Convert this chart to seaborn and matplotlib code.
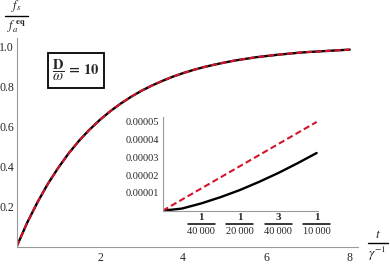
import numpy as np
import matplotlib
matplotlib.use("Agg")
import matplotlib.pyplot as plt
import matplotlib.transforms as mtransforms
import seaborn as sns

# main curve (exact and approximate coincide)
t_main = [0, 0.25, 0.5, 0.75, 1, 1.25, 1.5, 1.75, 2, 2.25, 2.5, 2.75, 3, 3.25, 3.5, 3.75, 4,
          4.25, 4.5, 4.75, 5, 5.25, 5.5, 5.75, 6, 6.25, 6.5, 6.75, 7, 7.25, 7.5, 7.75, 8]
frac_main = [0, 0.118, 0.221, 0.313, 0.393, 0.465, 0.528, 0.583, 0.632, 0.675, 0.713, 0.747,
             0.777, 0.803, 0.826, 0.847, 0.865, 0.881, 0.895, 0.907, 0.918, 0.928, 0.936,
             0.944, 0.950, 0.956, 0.961, 0.966, 0.970, 0.973, 0.976, 0.979, 0.982]

# inset (short times)
t_inset = [0, 1.25e-5, 2.5e-5, 3.75e-5, 5e-5, 6.25e-5, 7.5e-5, 8.75e-5, 1e-4]
frac_inset_exact = [0, 0.12e-5, 0.41e-5, 0.76e-5, 1.16e-5, 1.62e-5, 2.12e-5, 2.67e-5, 3.25e-5]
frac_inset_approx = [0, 0.625e-5, 1.25e-5, 1.875e-5, 2.5e-5, 3.125e-5, 3.75e-5, 4.375e-5, 5e-5]

main_xticks = [2, 4, 6, 8]
main_yticks = [0.2, 0.4, 0.6, 0.8, 1.0]
inset_xticks = [2.5e-5, 5e-5, 7.5e-5, 1e-4]
inset_xnum = ['1', '1', '3', '1']
inset_xden = ['40\u2009000', '20\u2009000', '40\u2009000', '10\u2009000']
inset_yticks = [1e-5, 2e-5, 3e-5, 4e-5, 5e-5]
inset_ylabels = ['0.00001', '0.00002', '0.00003', '0.00004', '0.00005']

sns.set_style("white")
plt.rcParams['font.family'] = ['Liberation Serif', 'DejaVu Serif']
plt.rcParams['mathtext.fontset'] = 'stix'

RED = '#d4142a'
AXC = '#9a9a9a'


def style_axes(ax):
    for s in ['top', 'right']:
        ax.spines[s].set_visible(False)
    for s in ['left', 'bottom']:
        ax.spines[s].set_color(AXC)
        ax.spines[s].set_linewidth(0.8)
    ax.tick_params(which='both', direction='in', color=AXC, width=0.6)
    ax.tick_params(which='major', length=3)
    ax.tick_params(which='minor', length=1.5)
    ax.patch.set_alpha(0)


def fig_fraction(fig, xc, ybar, half_w, num, den, size, gap_num=1.5, gap_den=2.5):
    # pixel coordinates from top-left, drawn as numerator / bar / denominator
    H = 265.0
    fig.text(xc / 390, 1 - (ybar - gap_num) / H, num, ha='center', va='bottom', fontsize=size)
    fig.text(xc / 390, 1 - (ybar + gap_den) / H, den, ha='center', va='top', fontsize=size)
    fig.add_artist(plt.Line2D([(xc - half_w) / 390, (xc + half_w) / 390],
                              [1 - ybar / H, 1 - ybar / H], color='black', lw=1.0,
                              transform=fig.transFigure))


fig = plt.figure(figsize=(3.9, 2.65), dpi=100)

# main axes
ax = fig.add_axes([16.7 / 390, 1 - 246.5 / 265, (358 - 16.7) / 390, (246.5 - 38) / 265])
sns.lineplot(x=t_main, y=frac_main, ax=ax, color='black', lw=1.7)
sns.lineplot(x=t_main, y=frac_main, ax=ax, color=RED, lw=1.5, linestyle=(0, (3, 1.6)))
ax.set_xlim(0, 8.2)
ax.set_ylim(0, 1.04)
style_axes(ax)
ax.set_xticks(main_xticks)
ax.set_xticks(np.arange(0.5, 8.1, 0.5), minor=True)
ax.set_yticks(main_yticks)
ax.set_yticks(np.arange(0.05, 1.04, 0.05), minor=True)
ax.set_yticklabels([f'{v:.1f}' for v in main_yticks])
ax.tick_params(axis='x', labelsize=8.5, pad=4)
ax.tick_params(axis='y', labelsize=8.5, pad=2)
ax.set_xlabel('')
ax.set_ylabel('')

# parameter box
ax.text(76 / 390, 1 - 70.5 / 265, r'$\dfrac{\mathbf{D}}{\omega}\mathbf{\,=\,10}$',
        transform=fig.transFigure, ha='center', va='center', fontsize=10.5,
        bbox=dict(boxstyle='square,pad=0.3', fc='white', ec='black', lw=1.3))

# axis labels as fractions
fig_fraction(fig, 16.5, 16, 11.5, r'$f_s$', r'$f_a^{\;\mathbf{eq}}$', 9)
fig_fraction(fig, 377.5, 242.5, 10, r'$t$', r'$\gamma^{-1}$', 9.5)

# inset
ins = fig.add_axes([162.7 / 390, 1 - 210.7 / 265, 155.5 / 390, (210.7 - 116.6) / 265])
sns.lineplot(x=t_inset, y=frac_inset_exact, ax=ins, color='black', lw=1.7)
sns.lineplot(x=t_inset, y=frac_inset_approx, ax=ins, color=RED, lw=1.5,
             linestyle=(0, (3, 1.6)))
ins.set_xlim(0, 1.01e-4)
ins.set_ylim(0, 5.3e-5)
style_axes(ins)
ins.set_xticks(inset_xticks)
ins.set_xticklabels([])
ins.set_xticks(np.arange(0.5e-5, 1.01e-4, 0.5e-5), minor=True)
ins.set_yticks(inset_yticks)
ins.set_yticklabels(inset_ylabels)
ins.set_yticks(np.arange(0.2e-5, 5.3e-5, 0.2e-5), minor=True)
ins.tick_params(axis='y', labelsize=7.5, pad=2.5)
ins.set_xlabel('')
ins.set_ylabel('')

# fraction tick labels under the inset
tr = ins.get_xaxis_transform()
bar_tr = mtransforms.offset_copy(tr, fig=fig, y=-9.3, units='points')
for xv, num, den in zip(inset_xticks, inset_xnum, inset_xden):
    ins.annotate(num, xy=(xv, 0), xycoords=tr, xytext=(0, -8.2), textcoords='offset points',
                 ha='center', va='bottom', fontsize=7.8, fontweight='bold')
    ins.annotate(den, xy=(xv, 0), xycoords=tr, xytext=(0, -11.8), textcoords='offset points',
                 ha='center', va='top', fontsize=7.5)
    ins.plot([xv - 0.88e-5, xv + 0.88e-5], [0, 0], transform=bar_tr, clip_on=False,
             color='black', lw=1.1)

fig.savefig('out.png', dpi=100)
